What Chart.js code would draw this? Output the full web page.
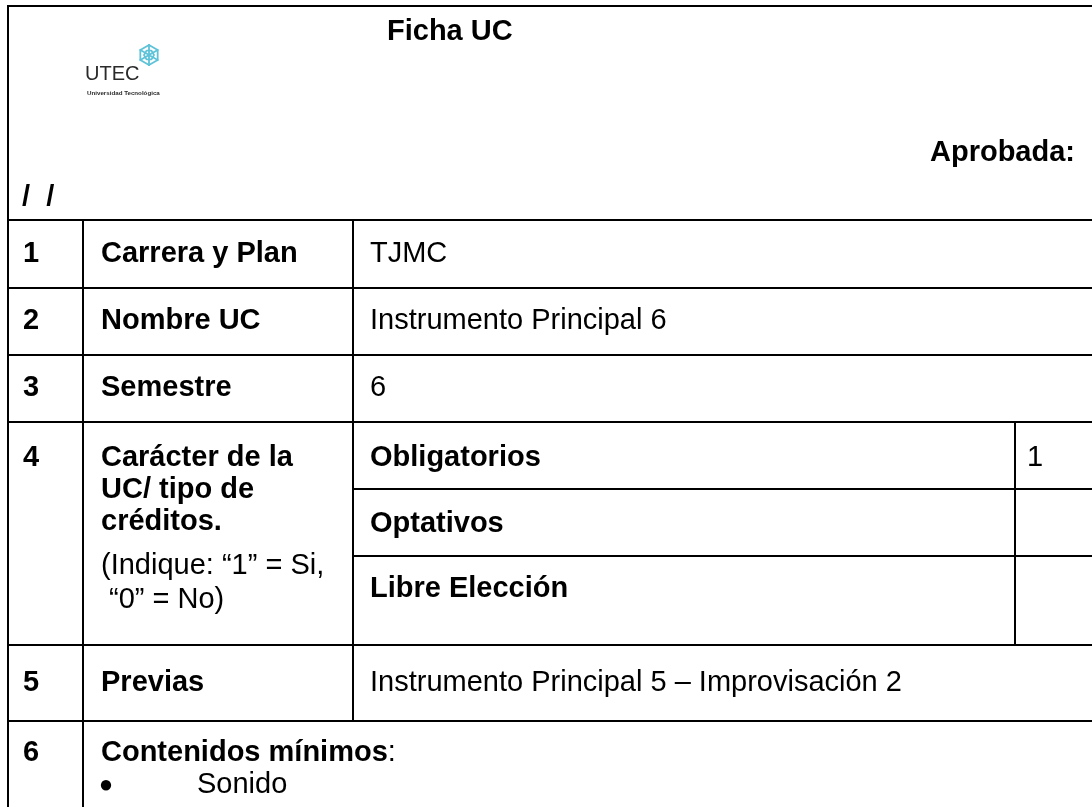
<!DOCTYPE html>
<html lang="es">
<head>
<meta charset="utf-8">
<title>Ficha UC</title>
<script src="https://cdn.jsdelivr.net/npm/chart.js@4.4.1/dist/chart.umd.min.js"></script>
<style>
  html, body { margin: 0; padding: 0; background: #fff; }
  #fichaCanvas { display: block; }
</style>
</head>
<body>
<canvas id="fichaCanvas" width="1092" height="807"></canvas>
<script>
// contenido de la ficha
const docTitle = 'Ficha UC';
const approvalLabel = 'Aprobada:';
const approvalDate = '/  /';
const rowNumbers = ['1', '2', '3', '4', '5', '6'];
const rowLabels = ['Carrera y Plan', 'Nombre UC', 'Semestre', '', 'Previas'];
const rowValues = ['TJMC', 'Instrumento Principal 6', '6', '', 'Instrumento Principal 5 – Improvisación 2'];
const creditLabelLines = ['Carácter de la', 'UC/ tipo de', 'créditos.'];
const creditNoteLines = ['(Indique: “1” = Si,', ' “0” = No)'];
const creditTypes = ['Obligatorios', 'Optativos', 'Libre Elección'];
const creditFlags = ['1', '', ''];
const contentsTitle = 'Contenidos mínimos';
const contentsItems = ['Sonido'];

// geometria de la tabla (en unidades de la escala = px)
const colX = [8, 83, 353, 1015, 1100];
const rowY = [6, 220, 288, 355, 422, 645, 721, 807];
const subRowY = [422, 489, 556, 645];
const FONT = '"Liberation Sans", Arial, sans-serif';
const SIZE = 29;

const fichaPlugin = {
    id: 'fichaTable',
    beforeDraw(chart) {
        const c = chart.ctx;
        c.save();
        c.fillStyle = '#fff';
        c.fillRect(0, 0, chart.width, chart.height);
        c.restore();
    },
    afterDraw(chart) {
        const c = chart.ctx;
        const X = v => chart.scales.x.getPixelForValue(v);
        const Y = v => chart.scales.y.getPixelForValue(v);

        function hline(y, x0, x1) {
            c.beginPath(); c.moveTo(X(x0), Y(y)); c.lineTo(X(x1), Y(y)); c.stroke();
        }
        function vline(x, y0, y1) {
            c.beginPath(); c.moveTo(X(x), Y(y0)); c.lineTo(X(x), Y(y1)); c.stroke();
        }
        function text(s, x, y, bold, align, size) {
            c.font = (bold ? 'bold ' : '') + (size || SIZE) + 'px ' + FONT;
            c.textAlign = align || 'left';
            c.fillText(s, X(x), Y(y));
        }

        c.save();
        c.strokeStyle = '#000';
        c.lineWidth = 2;
        c.lineCap = 'square';

        // bordes y lineas
        hline(rowY[0], colX[0], colX[4]);
        vline(colX[0], rowY[0], rowY[7]);
        for (let i = 1; i <= 6; i++) hline(rowY[i], colX[0], colX[4]);
        vline(colX[1], rowY[1], rowY[7]);
        vline(colX[2], rowY[1], rowY[6]);
        hline(subRowY[1], colX[2], colX[4]);
        hline(subRowY[2], colX[2], colX[4]);
        vline(colX[3], subRowY[0], subRowY[3]);

        // logo UTEC
        const cx = X(149), cy = Y(55), r = 10;
        c.strokeStyle = '#5ec3d8';
        c.lineWidth = 1.8;
        c.lineJoin = 'round';
        c.beginPath();
        for (let k = 0; k < 6; k++) {
            const a = Math.PI / 3 * k - Math.PI / 2;
            const px = cx + r * Math.cos(a), py = cy + r * Math.sin(a);
            if (k === 0) c.moveTo(px, py); else c.lineTo(px, py);
        }
        c.closePath();
        c.stroke();
        c.beginPath();
        for (let k = 0; k < 3; k++) {
            const a = Math.PI / 3 * k - Math.PI / 2;
            c.moveTo(cx + r * Math.cos(a), cy + r * Math.sin(a));
            c.lineTo(cx - r * Math.cos(a), cy - r * Math.sin(a));
        }
        c.stroke();
        c.beginPath();
        for (let k = 0; k < 6; k++) {
            const a = Math.PI / 3 * k;
            const px = cx + r * 0.5 * Math.cos(a), py = cy + r * 0.5 * Math.sin(a);
            if (k === 0) c.moveTo(px, py); else c.lineTo(px, py);
        }
        c.closePath();
        c.stroke();

        c.fillStyle = '#2a2a2a';
        c.textBaseline = 'alphabetic';
        c.textAlign = 'left';
        c.font = '20px ' + FONT;
        c.fillText('UTEC', X(85), Y(80));
        c.font = 'bold 6.2px ' + FONT;
        c.fillText('Universidad Tecnológica', X(87), Y(95));

        // encabezado
        c.fillStyle = '#000';
        text(docTitle, 387, 40, true);
        text(approvalLabel, 1075, 161, true, 'right');
        text(approvalDate, 22, 206, true);

        // filas
        c.textBaseline = 'middle';
        const centers = [254, 321, 388, 458, 683, 753];
        rowNumbers.forEach((n, i) => text(n, 23, centers[i], true));
        [0, 1, 2, 4].forEach(i => {
            text(rowLabels[i], 101, centers[i], true);
            text(rowValues[i], 370, centers[i], false);
        });

        const labelLinesY = [458, 490, 522];
        creditLabelLines.forEach((s, i) => text(s, 101, labelLinesY[i], true));
        const noteLinesY = [566, 600];
        creditNoteLines.forEach((s, i) => text(s, 101, noteLinesY[i], false));
        const typeY = [458, 524, 589];
        creditTypes.forEach((s, i) => text(s, 370, typeY[i], true));
        creditFlags.forEach((s, i) => { if (s) text(s, 1027, typeY[i], false); });

        // contenidos minimos
        text(contentsTitle, 101, 753, true);
        c.font = 'bold ' + SIZE + 'px ' + FONT;
        const w = c.measureText(contentsTitle).width;
        text(':', 101 + w, 753, false);
        contentsItems.forEach((s, i) => {
            text('●', 106, 785 + i * 34, false, 'center', 24);
            text(s, 197, 785 + i * 34, false);
        });
        c.restore();
    }
};

const ctx = document.getElementById('fichaCanvas').getContext('2d');
const fichaChart = new Chart(ctx, {
    type: 'scatter',
    data: { datasets: [{ data: [], pointRadius: 0 }] },
    options: {
        responsive: false,
        animation: false,
        devicePixelRatio: 1,
        events: [],
        layout: { padding: 0 },
        plugins: { legend: { display: false }, tooltip: { enabled: false } },
        scales: {
            x: { type: 'linear', min: 0, max: 1092, display: false },
            y: { type: 'linear', min: 0, max: 807, reverse: true, display: false }
        }
    },
    plugins: [fichaPlugin]
});
</script>
</body>
</html>
